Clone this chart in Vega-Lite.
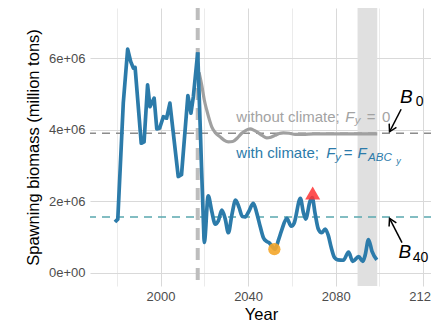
{
  "$schema": "https://vega.github.io/schema/vega-lite/v6.json",
  "width": 342,
  "height": 278,
  "autosize": {"type": "none"},
  "padding": {"left": 90, "top": 8, "right": 0, "bottom": 40},
  "background": "white",
  "config": {
    "view": {"stroke": null},
    "axis": {
      "domain": false, "ticks": false,
      "labelFont": "Liberation Sans", "labelFontSize": 13, "labelColor": "#4D4D4D",
      "titleFont": "Liberation Sans", "titleFontSize": 16.5, "titleFontWeight": "normal", "titleColor": "#000000",
      "labelOverlap": false, "labelBound": false, "labelFlush": false
    },
    "text": {"font": "Liberation Sans"}
  },
  "datasets": {
    "window": [{"year": 2090, "year_end": 2099}],
    "events": [{"year": 2017}],
    "refs": [{"name": "B0", "biomass": 3900000}, {"name": "B40", "biomass": 1560000}],
    "ssb": [
      {"year": 1979.2, "biomass": 1420000, "series": "with climate"},
      {"year": 1980.5, "biomass": 1500000, "series": "with climate"},
      {"year": 1983.0, "biomass": 4740000, "series": "with climate"},
      {"year": 1985.0, "biomass": 6250000, "series": "with climate"},
      {"year": 1986.4, "biomass": 5900000, "series": "with climate"},
      {"year": 1987.6, "biomass": 5720000, "series": "with climate"},
      {"year": 1988.4, "biomass": 5740000, "series": "with climate"},
      {"year": 1991.2, "biomass": 3620000, "series": "with climate"},
      {"year": 1992.5, "biomass": 3660000, "series": "with climate"},
      {"year": 1994.1, "biomass": 5250000, "series": "with climate"},
      {"year": 1995.2, "biomass": 4640000, "series": "with climate"},
      {"year": 1997.1, "biomass": 4880000, "series": "with climate"},
      {"year": 1998.3, "biomass": 4020000, "series": "with climate"},
      {"year": 1999.6, "biomass": 4040000, "series": "with climate"},
      {"year": 2001.3, "biomass": 4360000, "series": "with climate"},
      {"year": 2002.8, "biomass": 4320000, "series": "with climate"},
      {"year": 2004.3, "biomass": 4740000, "series": "with climate"},
      {"year": 2008.1, "biomass": 2690000, "series": "with climate"},
      {"year": 2009.6, "biomass": 2740000, "series": "with climate"},
      {"year": 2012.5, "biomass": 4950000, "series": "with climate"},
      {"year": 2013.9, "biomass": 4460000, "series": "with climate"},
      {"year": 2015.0, "biomass": 4920000, "series": "with climate"},
      {"year": 2017.0, "biomass": 6160000, "series": "with climate"},
      {"year": 2018.3, "biomass": 3780000, "series": "with climate"},
      {"year": 2019.6, "biomass": 1400000, "series": "with climate"},
      {"year": 2020.0, "biomass": 850000, "series": "with climate"},
      {"year": 2021.8, "biomass": 2150000, "series": "with climate"},
      {"year": 2023.4, "biomass": 1720000, "series": "with climate"},
      {"year": 2025.0, "biomass": 1360000, "series": "with climate"},
      {"year": 2026.4, "biomass": 1450000, "series": "with climate"},
      {"year": 2028.0, "biomass": 1750000, "series": "with climate"},
      {"year": 2029.5, "biomass": 1520000, "series": "with climate"},
      {"year": 2031.0, "biomass": 1120000, "series": "with climate"},
      {"year": 2032.6, "biomass": 1620000, "series": "with climate"},
      {"year": 2034.3, "biomass": 2030000, "series": "with climate"},
      {"year": 2035.9, "biomass": 1820000, "series": "with climate"},
      {"year": 2037.4, "biomass": 1570000, "series": "with climate"},
      {"year": 2038.6, "biomass": 1560000, "series": "with climate"},
      {"year": 2040.2, "biomass": 1700000, "series": "with climate"},
      {"year": 2042.4, "biomass": 1940000, "series": "with climate"},
      {"year": 2044.0, "biomass": 1660000, "series": "with climate"},
      {"year": 2045.5, "biomass": 1300000, "series": "with climate"},
      {"year": 2047.0, "biomass": 980000, "series": "with climate"},
      {"year": 2048.4, "biomass": 880000, "series": "with climate"},
      {"year": 2049.8, "biomass": 830000, "series": "with climate"},
      {"year": 2051.2, "biomass": 720000, "series": "with climate"},
      {"year": 2052.3, "biomass": 660000, "series": "with climate"},
      {"year": 2053.9, "biomass": 920000, "series": "with climate"},
      {"year": 2055.4, "biomass": 1200000, "series": "with climate"},
      {"year": 2057.7, "biomass": 1520000, "series": "with climate"},
      {"year": 2059.7, "biomass": 1300000, "series": "with climate"},
      {"year": 2061.0, "biomass": 1380000, "series": "with climate"},
      {"year": 2063.9, "biomass": 2080000, "series": "with climate"},
      {"year": 2065.2, "biomass": 1700000, "series": "with climate"},
      {"year": 2066.3, "biomass": 1500000, "series": "with climate"},
      {"year": 2068.3, "biomass": 2000000, "series": "with climate"},
      {"year": 2069.3, "biomass": 2100000, "series": "with climate"},
      {"year": 2070.6, "biomass": 1660000, "series": "with climate"},
      {"year": 2072.1, "biomass": 1220000, "series": "with climate"},
      {"year": 2073.6, "biomass": 1120000, "series": "with climate"},
      {"year": 2075.2, "biomass": 1220000, "series": "with climate"},
      {"year": 2076.6, "biomass": 1050000, "series": "with climate"},
      {"year": 2078.0, "biomass": 700000, "series": "with climate"},
      {"year": 2079.5, "biomass": 420000, "series": "with climate"},
      {"year": 2081.0, "biomass": 360000, "series": "with climate"},
      {"year": 2083.5, "biomass": 350000, "series": "with climate"},
      {"year": 2085.9, "biomass": 580000, "series": "with climate"},
      {"year": 2087.8, "biomass": 320000, "series": "with climate"},
      {"year": 2090.5, "biomass": 450000, "series": "with climate"},
      {"year": 2092.4, "biomass": 320000, "series": "with climate"},
      {"year": 2093.5, "biomass": 500000, "series": "with climate"},
      {"year": 2095.0, "biomass": 930000, "series": "with climate"},
      {"year": 2096.6, "biomass": 600000, "series": "with climate"},
      {"year": 2098.8, "biomass": 360000, "series": "with climate"},
      {"year": 2017.6, "biomass": 5600000, "series": "without climate"},
      {"year": 2018.8, "biomass": 5250000, "series": "without climate"},
      {"year": 2020.0, "biomass": 4830000, "series": "without climate"},
      {"year": 2021.1, "biomass": 4550000, "series": "without climate"},
      {"year": 2023.4, "biomass": 4080000, "series": "without climate"},
      {"year": 2025.0, "biomass": 3920000, "series": "without climate"},
      {"year": 2027.2, "biomass": 3800000, "series": "without climate"},
      {"year": 2029.0, "biomass": 3710000, "series": "without climate"},
      {"year": 2031.0, "biomass": 3660000, "series": "without climate"},
      {"year": 2033.0, "biomass": 3670000, "series": "without climate"},
      {"year": 2035.0, "biomass": 3760000, "series": "without climate"},
      {"year": 2037.1, "biomass": 3900000, "series": "without climate"},
      {"year": 2039.0, "biomass": 3980000, "series": "without climate"},
      {"year": 2040.9, "biomass": 4020000, "series": "without climate"},
      {"year": 2042.8, "biomass": 3980000, "series": "without climate"},
      {"year": 2044.7, "biomass": 3910000, "series": "without climate"},
      {"year": 2046.6, "biomass": 3830000, "series": "without climate"},
      {"year": 2048.5, "biomass": 3770000, "series": "without climate"},
      {"year": 2050.4, "biomass": 3790000, "series": "without climate"},
      {"year": 2052.3, "biomass": 3840000, "series": "without climate"},
      {"year": 2054.2, "biomass": 3890000, "series": "without climate"},
      {"year": 2056.1, "biomass": 3910000, "series": "without climate"},
      {"year": 2058.8, "biomass": 3900000, "series": "without climate"},
      {"year": 2061.5, "biomass": 3870000, "series": "without climate"},
      {"year": 2065.0, "biomass": 3870000, "series": "without climate"},
      {"year": 2070.0, "biomass": 3880000, "series": "without climate"},
      {"year": 2080.0, "biomass": 3880000, "series": "without climate"},
      {"year": 2090.0, "biomass": 3880000, "series": "without climate"},
      {"year": 2099.0, "biomass": 3880000, "series": "without climate"}
    ],
    "markers": [
      {"year": 2052.0, "biomass": 660000, "kind": "lowest"},
      {"year": 2069.5, "biomass": 2230000, "kind": "highest"}
    ],
    "labels": [
      {"text": "without climate;", "year": 2034.65, "biomass": 4224000, "series": "without climate", "role": "text"},
      {"text": "F", "year": 2084.34, "biomass": 4224000, "series": "without climate", "role": "symbol"},
      {"text": "y", "year": 2088.69, "biomass": 4153000, "series": "without climate", "role": "subscript"},
      {"text": "=", "year": 2094.2, "biomass": 4224000, "series": "without climate", "role": "text"},
      {"text": "0", "year": 2101.12, "biomass": 4224000, "series": "without climate", "role": "text"},
      {"text": "with climate;", "year": 2034.65, "biomass": 3196000, "series": "with climate", "role": "text"},
      {"text": "F", "year": 2075.66, "biomass": 3196000, "series": "with climate", "role": "symbol"},
      {"text": "y", "year": 2079.8, "biomass": 3125000, "series": "with climate", "role": "subscript"},
      {"text": "=", "year": 2083.7, "biomass": 3196000, "series": "with climate", "role": "text"},
      {"text": "F", "year": 2090.0, "biomass": 3196000, "series": "with climate", "role": "symbol"},
      {"text": "ABC", "year": 2094.8, "biomass": 3110000, "series": "with climate", "role": "subscript"},
      {"text": "y", "year": 2107.66, "biomass": 3027000, "series": "with climate", "role": "subsubscript"},
      {"text": "B", "year": 2109.35, "biomass": 4737000, "series": "reference", "role": "refsymbol"},
      {"text": "0", "year": 2116.57, "biomass": 4662000, "series": "reference", "role": "refsub"},
      {"text": "B", "year": 2108.7, "biomass": 405000, "series": "reference", "role": "refsymbol"},
      {"text": "40", "year": 2115.2, "biomass": 310000, "series": "reference", "role": "refsub"}
    ],
    "arrows": [
      {"target": "B0", "year": 2109.9, "biomass": 4570000, "year_end": 2104.6, "biomass_end": 3940000},
      {"target": "B40", "year": 2110.3, "biomass": 840000, "year_end": 2104.6, "biomass_end": 1520000}
    ]
  },
  "layer": [
    {
      "data": {"name": "window"},
      "mark": {"type": "rect", "color": "#E0E0E0"},
      "encoding": {
        "x": {
          "field": "year", "type": "quantitative",
          "scale": {"domain": [1967.8, 2124], "nice": false, "zero": false},
          "axis": {
            "title": "Year",
            "values": [1980, 2000, 2020, 2040, 2060, 2080, 2100, 2120],
            "format": "d",
            "labelExpr": "datum.value % 40 == 0 ? datum.label : ''",
            "gridColor": {"condition": {"test": "datum.value % 40 == 0", "value": "#D9D9D9"}, "value": "#EBEBEB"},
            "gridWidth": 1,
            "labelPadding": 4,
            "titlePadding": 3
          }
        },
        "x2": {"field": "year_end"}
      }
    },
    {
      "data": {"name": "events"},
      "mark": {"type": "rule", "color": "#BDBDBD", "strokeWidth": 4, "strokeDash": [12, 8]},
      "encoding": {"x": {"field": "year", "type": "quantitative"}}
    },
    {
      "data": {"name": "refs"},
      "mark": {"type": "rule", "strokeWidth": 1.4, "strokeDash": [8, 6]},
      "encoding": {
        "y": {"field": "biomass", "type": "quantitative"},
        "color": {"condition": {"test": "datum.name == 'B0'", "value": "#8C8C8C"}, "value": "#5AA8AE"}
      }
    },
    {
      "data": {"name": "ssb"},
      "transform": [{"filter": "datum.series == 'without climate'"}],
      "mark": {"type": "line", "interpolate": "monotone", "color": "#A0A0A0", "strokeWidth": 3.2},
      "encoding": {
        "x": {"field": "year", "type": "quantitative"},
        "y": {
          "field": "biomass", "type": "quantitative",
          "scale": {"domain": [-370000, 7400000], "nice": false, "zero": false},
          "axis": {
            "title": "Spawning biomass (million tons)",
            "values": [0, 1000000, 2000000, 3000000, 4000000, 5000000, 6000000, 7000000],
            "labelExpr": "datum.value % 2000000 == 0 ? (datum.value == 0 ? '0e+00' : (datum.value / 1000000) + 'e+06') : ''",
            "gridColor": {"condition": {"test": "datum.value % 2000000 == 0", "value": "#D9D9D9"}, "value": "#EBEBEB"},
            "gridWidth": 1,
            "labelPadding": 5,
            "titlePadding": 7
          }
        }
      }
    },
    {
      "data": {"name": "ssb"},
      "transform": [{"filter": "datum.series == 'with climate' && datum.year <= 2017"}],
      "mark": {"type": "line", "color": "#2C7BAA", "strokeWidth": 3.7, "strokeJoin": "round"},
      "encoding": {
        "x": {"field": "year", "type": "quantitative"},
        "y": {"field": "biomass", "type": "quantitative"}
      }
    },
    {
      "data": {"name": "ssb"},
      "transform": [{"filter": "datum.series == 'with climate' && datum.year >= 2017"}],
      "mark": {"type": "line", "interpolate": "monotone", "color": "#2C7BAA", "strokeWidth": 3.7, "strokeJoin": "round"},
      "encoding": {
        "x": {"field": "year", "type": "quantitative"},
        "y": {"field": "biomass", "type": "quantitative"}
      }
    },
    {
      "data": {"name": "markers"},
      "transform": [{"filter": "datum.kind == 'lowest'"}],
      "mark": {"type": "point", "shape": "circle", "filled": true, "color": "#F4A62A", "opacity": 0.9, "size": 150, "strokeWidth": 0},
      "encoding": {
        "x": {"field": "year", "type": "quantitative"},
        "y": {"field": "biomass", "type": "quantitative"}
      }
    },
    {
      "data": {"name": "markers"},
      "transform": [{"filter": "datum.kind == 'highest'"}],
      "mark": {"type": "point", "shape": "triangle-up", "filled": true, "color": "#FF3333", "opacity": 0.85, "size": 225, "strokeWidth": 0},
      "encoding": {
        "x": {"field": "year", "type": "quantitative"},
        "y": {"field": "biomass", "type": "quantitative"}
      }
    },
    {
      "data": {"name": "labels"},
      "transform": [{"filter": "datum.role == 'text'"}],
      "mark": {"type": "text", "align": "left", "baseline": "alphabetic", "fontSize": 15},
      "encoding": {
        "x": {"field": "year", "type": "quantitative"},
        "y": {"field": "biomass", "type": "quantitative"},
        "text": {"field": "text"},
        "color": {"condition": {"test": "datum.series == 'with climate'", "value": "#2C7BAA"}, "value": "#A3A3A3"}
      }
    },
    {
      "data": {"name": "labels"},
      "transform": [{"filter": "datum.role == 'symbol'"}],
      "mark": {"type": "text", "align": "left", "baseline": "alphabetic", "fontSize": 15, "fontStyle": "italic"},
      "encoding": {
        "x": {"field": "year", "type": "quantitative"},
        "y": {"field": "biomass", "type": "quantitative"},
        "text": {"field": "text"},
        "color": {"condition": {"test": "datum.series == 'with climate'", "value": "#2C7BAA"}, "value": "#A3A3A3"}
      }
    },
    {
      "data": {"name": "labels"},
      "transform": [{"filter": "datum.role == 'subscript'"}],
      "mark": {"type": "text", "align": "left", "baseline": "alphabetic", "fontSize": 11.5, "fontStyle": "italic"},
      "encoding": {
        "x": {"field": "year", "type": "quantitative"},
        "y": {"field": "biomass", "type": "quantitative"},
        "text": {"field": "text"},
        "color": {"condition": {"test": "datum.series == 'with climate'", "value": "#2C7BAA"}, "value": "#A3A3A3"}
      }
    },
    {
      "data": {"name": "labels"},
      "transform": [{"filter": "datum.role == 'subsubscript'"}],
      "mark": {"type": "text", "align": "left", "baseline": "alphabetic", "fontSize": 9, "fontStyle": "italic"},
      "encoding": {
        "x": {"field": "year", "type": "quantitative"},
        "y": {"field": "biomass", "type": "quantitative"},
        "text": {"field": "text"},
        "color": {"condition": {"test": "datum.series == 'with climate'", "value": "#2C7BAA"}, "value": "#A3A3A3"}
      }
    },
    {
      "data": {"name": "labels"},
      "transform": [{"filter": "datum.role == 'refsymbol'"}],
      "mark": {"type": "text", "align": "left", "baseline": "alphabetic", "fontSize": 19, "fontStyle": "italic", "color": "#000000"},
      "encoding": {
        "x": {"field": "year", "type": "quantitative"},
        "y": {"field": "biomass", "type": "quantitative"},
        "text": {"field": "text"}
      }
    },
    {
      "data": {"name": "labels"},
      "transform": [{"filter": "datum.role == 'refsub'"}],
      "mark": {"type": "text", "align": "left", "baseline": "alphabetic", "fontSize": 14, "color": "#000000"},
      "encoding": {
        "x": {"field": "year", "type": "quantitative"},
        "y": {"field": "biomass", "type": "quantitative"},
        "text": {"field": "text"}
      }
    },
    {
      "data": {"name": "arrows"},
      "mark": {"type": "rule", "color": "#000000", "strokeWidth": 1.5},
      "encoding": {
        "x": {"field": "year", "type": "quantitative"},
        "y": {"field": "biomass", "type": "quantitative"},
        "x2": {"field": "year_end"},
        "y2": {"field": "biomass_end"}
      }
    },
    {
      "data": {"name": "arrows"},
      "transform": [{"filter": "datum.target == 'B0'"}],
      "mark": {"type": "point", "shape": "M-0.577,1L0,0L0.577,1", "filled": false, "stroke": "#000000", "strokeWidth": 1.5, "opacity": 1, "size": 200, "angle": 207.6},
      "encoding": {
        "x": {"field": "year_end", "type": "quantitative"},
        "y": {"field": "biomass_end", "type": "quantitative"}
      }
    },
    {
      "data": {"name": "arrows"},
      "transform": [{"filter": "datum.target == 'B40'"}],
      "mark": {"type": "point", "shape": "M-0.577,1L0,0L0.577,1", "filled": false, "stroke": "#000000", "strokeWidth": 1.5, "opacity": 1, "size": 200, "angle": 333.1},
      "encoding": {
        "x": {"field": "year_end", "type": "quantitative"},
        "y": {"field": "biomass_end", "type": "quantitative"}
      }
    }
  ]
}
